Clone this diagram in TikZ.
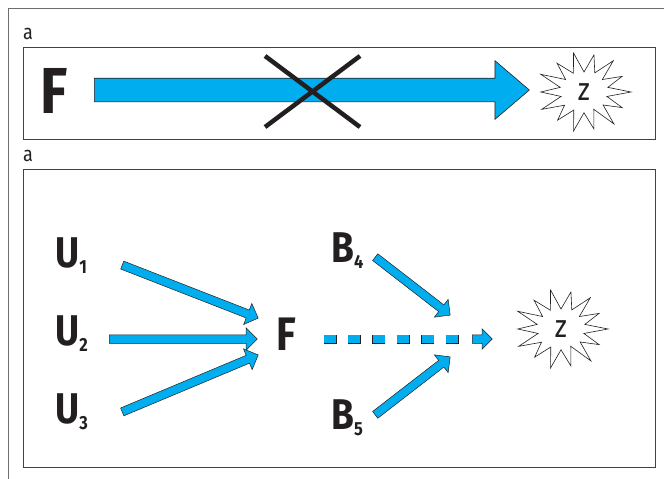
\documentclass[tikz,border=0pt]{standalone}
\usepackage{fontspec}
\setmainfont{Fira Sans}
\newfontfamily\labfont[FakeStretch=0.86]{Fira Sans}
\usetikzlibrary{shapes.arrows,calc}
\definecolor{ink}{HTML}{231F20}
\definecolor{cyanf}{HTML}{00AEEF}
\definecolor{framec}{HTML}{6D6E71}
\newcommand\lsub[1]{\raisebox{-6pt}{\fontsize{19}{19}\selectfont #1}}
\newcommand\fatarrow[3]{%
  \path let \p1=(#2), \p2=(#3),
    \n1={atan2(\y2-\y1,\x2-\x1)}, \n2={veclen(\x2-\x1,\y2-\y1)} in
    node[#1, rotate=\n1, minimum height=\n2, anchor=tail] at (#2) {};}
\newcommand\burst[1]{%
  \draw[burstline] ($(#1)+(0:47 and 40)$)
  \foreach \a/\r in {12.86/0.5,25.71/0.9,38.57/0.52,51.43/1.02,64.29/0.48,77.14/0.95,90/0.52,
    102.86/1.0,115.71/0.5,128.57/0.9,141.43/0.53,154.29/1.0,167.14/0.5,180/0.92,192.86/0.52,
    205.71/1.02,218.57/0.5,231.43/0.92,244.29/0.52,257.14/1.0,270/0.5,282.86/0.95,295.71/0.53,
    308.57/1.0,321.43/0.5,334.29/0.9,347.14/0.52}
  { -- ($(#1)+(\a:{47*\r} and {40*\r})$) } -- cycle;}
\tikzset{
  boxline/.style={draw=ink!85, line width=0.9pt},
  framel/.style={draw=framec, line width=0.9pt},
  burstline/.style={draw=ink, fill=white, line width=0.6pt, line join=miter},
  tag/.style={font=\labfont\fontsize{21}{21}\selectfont, text=ink, inner sep=0, anchor=base west},
  lbl/.style={font=\labfont\bfseries\fontsize{43}{43}\selectfont, text=ink, inner sep=0, anchor=base west},
  bigF/.style={font=\labfont\bfseries\fontsize{65}{65}\selectfont, text=ink, inner sep=0, anchor=base west},
  midF/.style={font=\labfont\bfseries\fontsize{47}{47}\selectfont, text=ink, inner sep=0, anchor=base west},
  zlab/.style={inner sep=0, text=ink, font=\labfont\fontsize{32}{32}\selectfont},
  smallarr/.style={single arrow, draw=ink, fill=cyanf, line width=0.5pt, inner xsep=0pt, inner ysep=4pt,
    single arrow head extend=7pt, single arrow tip angle=90},
  endarr/.style={single arrow, draw=ink, fill=cyanf, line width=0.5pt, inner xsep=0pt, inner ysep=4pt,
    single arrow head extend=6pt, single arrow tip angle=90},
  bigarr/.style={single arrow, draw=ink, fill=cyanf, line width=0.6pt, inner xsep=0pt, inner ysep=11.5pt,
    single arrow head extend=17.5pt, single arrow tip angle=81},
}
\begin{document}
\begin{tikzpicture}[x=1pt,y=-1pt]
\useasboundingbox (0,0) rectangle (664,479);
% outer frame
\draw[framel] (8.5,479) -- (8.5,8.5) -- (664,8.5);
% panel 1
\node[tag] (a1) at (23,39) {a};
\draw[boxline] (23,47) rectangle (655,139);
\node[bigF] (F1) at (40,113) {F};
\coordinate (s1) at (94,90);
\coordinate (e1) at (529,90);
\fatarrow{bigarr}{s1}{e1}
\coordinate (x1) at (265,56);
\coordinate (x2) at (360,127);
\coordinate (x3) at (360,56);
\coordinate (x4) at (265,127);
\draw[ink, line width=4.5pt] (x1) -- (x2);
\draw[ink, line width=4.5pt] (x3) -- (x4);
\coordinate (c1) at (584,92);
\burst{c1}
\node[zlab] (z1) at (c1) {z};
% panel 2
\node[tag] (a2) at (23,161) {a};
\draw[boxline] (23,169) rectangle (655,467);
\node[lbl] (u1) at (55,267) {U\lsub{1}};
\node[lbl] (u2) at (55,345) {U\lsub{2}};
\node[lbl] (u3) at (55,423) {U\lsub{3}};
\node[midF] (F2) at (276,350) {F};
\node[lbl] (b4) at (331,262) {B\lsub{4}};
\node[lbl] (b5) at (331,429) {B\lsub{5}};
\coordinate (c2) at (561,329);
\burst{c2}
\node[zlab] (z2) at (c2) {z};
\coordinate (u1t) at (122,265);
\coordinate (u1h) at (258,318);
\coordinate (u2t) at (109,339);
\coordinate (u2h) at (257,339);
\coordinate (u3t) at (122,412);
\coordinate (u3h) at (258,355);
\coordinate (b4t) at (375,257);
\coordinate (b4h) at (450,315);
\coordinate (b5t) at (375,415);
\coordinate (b5h) at (450,357);
\fatarrow{smallarr}{u1t}{u1h}
\fatarrow{smallarr}{u2t}{u2h}
\fatarrow{smallarr}{u3t}{u3h}
\fatarrow{smallarr}{b4t}{b4h}
\fatarrow{smallarr}{b5t}{b5h}
% dashed arrow
\coordinate (d0) at (323.5,339);
\coordinate (d1) at (324,339);
\coordinate (d2) at (462,339);
\coordinate (d3) at (472,339);
\coordinate (d4) at (492,339);
\draw[ink, line width=9pt, dash pattern=on 13pt off 11.4pt] (d0) -- (d2);
\draw[cyanf, line width=8pt, dash pattern=on 12pt off 12.4pt] (d1) -- (d2);
\fatarrow{endarr}{d3}{d4}
\end{tikzpicture}
\end{document}
